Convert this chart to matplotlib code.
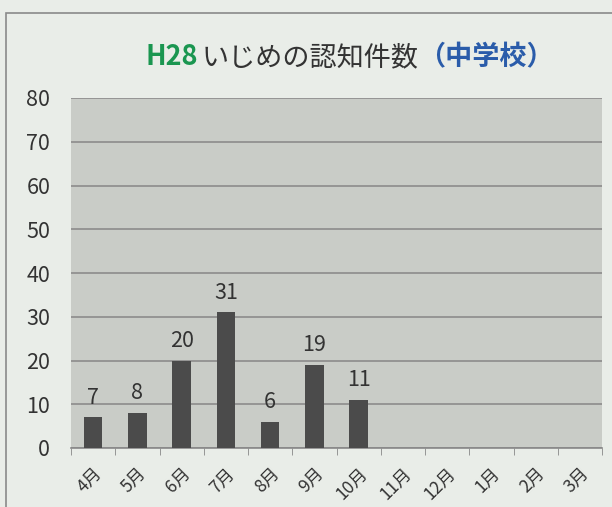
import matplotlib
matplotlib.use("Agg")
import matplotlib.pyplot as plt
from matplotlib.patches import Rectangle

plt.rcParams['font.family'] = ['Noto Sans CJK JP', 'DejaVu Sans']

months = ["4月", "5月", "6月", "7月", "8月", "9月", "10月", "11月", "12月", "1月", "2月", "3月"]
counts = [7, 8, 20, 31, 6, 19, 11]
title_parts = [("H28", "#1a9650", "bold"), ("いじめの認知件数", "#333333", "normal"),
               ("（中学校）", "#2a5caa", "bold")]

fig = plt.figure(figsize=(6.12, 5.07), dpi=100)
fig.patch.set_facecolor("#e9ede8")

# outer frame
fig.add_artist(Rectangle((0.010, -0.01), 1.2, 0.985, transform=fig.transFigure,
                         fill=False, edgecolor="#8a8a8a", linewidth=1.2))

ax = fig.add_axes([71 / 612, 1 - 448 / 507, 531 / 612, 350 / 507])
ax.set_facecolor("#c9ccc7")

x = list(range(len(counts)))
ax.bar(x, counts, width=0.42, color="#4b4b4b", zorder=3)
for xi, v in zip(x, counts):
    ax.text(xi, v + 2.0, str(v), ha="center", va="bottom", fontsize=15.5, color="#333333")

ax.set_xlim(-0.5, len(months) - 0.5)
ax.set_ylim(0, 80)
ax.set_yticks(range(0, 81, 10))
ax.yaxis.grid(True, color="#8c8c8c", linewidth=1.2, zorder=1)
ax.tick_params(axis="y", length=0, labelsize=15.5, labelcolor="#333333", pad=15)

ax.set_xticks(range(len(months)))
ax.set_xticklabels(months, rotation=45, ha="right", rotation_mode="anchor",
                   fontsize=12.5, color="#333333")
ax.tick_params(axis="x", length=0, pad=12)
ax.set_xticks([i - 0.5 for i in range(len(months) + 1)], minor=True)
ax.tick_params(axis="x", which="minor", length=5, color="#888888", direction="out")

for s in ["top", "right", "left"]:
    ax.spines[s].set_visible(False)
ax.spines["bottom"].set_color("#888888")
ax.spines["bottom"].set_linewidth(1.2)

# multicolour title, pieces placed side by side
for s, c, w in title_parts:
    fig.text(0, 0, s, color=c, fontweight=w, fontsize=19.5, ha="left", va="baseline")
renderer = fig.canvas.get_renderer()
xpos = 145
for i, txt in enumerate(fig.texts):
    txt.set_x(xpos / 612)
    txt.set_y(1 - 65 / 507)
    xpos += txt.get_window_extent(renderer).width + (4 if i == 0 else 0)

fig.savefig("out.png", dpi=100, facecolor=fig.get_facecolor())
